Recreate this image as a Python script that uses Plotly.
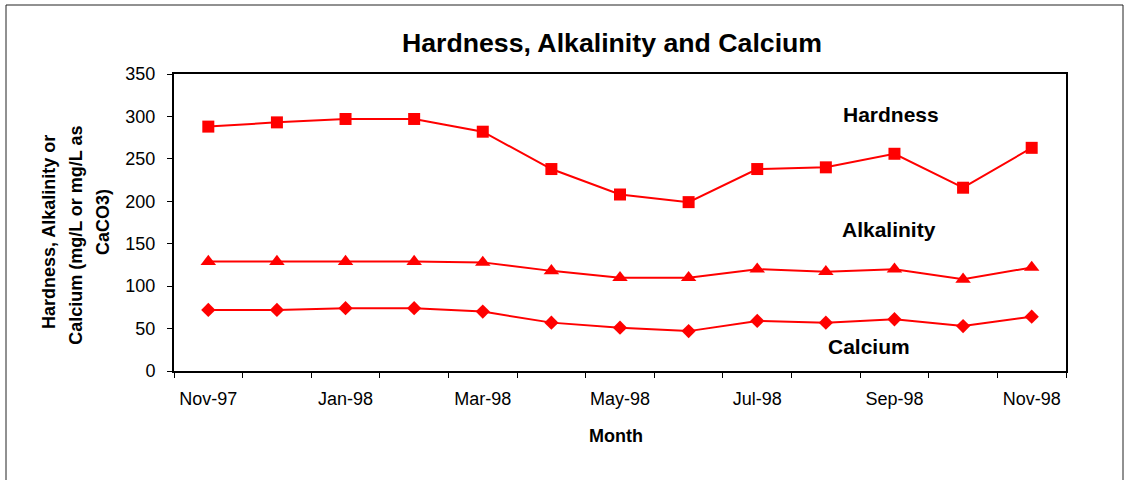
import plotly.graph_objects as go

months = ["Nov-97", "Dec-97", "Jan-98", "Feb-98", "Mar-98", "Apr-98", "May-98",
          "Jun-98", "Jul-98", "Aug-98", "Sep-98", "Oct-98", "Nov-98"]
hardness = [288, 293, 297, 297, 282, 238, 208, 199, 238, 240, 256, 216, 263]
alkalinity = [129, 129, 129, 129, 128, 118, 110, 110, 120, 117, 120, 108, 122]
calcium = [72, 72, 74, 74, 70, 57, 51, 47, 59, 57, 61, 53, 64]

tick_text = [m if i % 2 == 0 else "" for i, m in enumerate(months)]

RED = "#FF0000"
FONT = "Liberation Sans, Arial, sans-serif"

fig = go.Figure()
series = [("Hardness", hardness, "square", 12),
          ("Alkalinity", alkalinity, "triangle-up", 13.5),
          ("Calcium", calcium, "diamond", 11)]
for name, vals, sym, sz in series:
    fig.add_trace(go.Scatter(
        x=months, y=vals, name=name, mode="lines+markers",
        line=dict(color=RED, width=2),
        marker=dict(symbol=sym, size=sz, color=RED),
        showlegend=False,
    ))

fig.update_layout(
    width=1126, height=480,
    margin=dict(l=174, r=60, t=74, b=109, autoexpand=False),
    paper_bgcolor="white", plot_bgcolor="white",
    font=dict(family=FONT, color="black", size=18),
    title=dict(text="<b>Hardness, Alkalinity and Calcium</b>",
               font=dict(size=26.7, family=FONT, color="black"),
               x=612 / 1126, xanchor="center", xref="container",
               y=1 - 43 / 480, yanchor="middle", yref="container",
               automargin=False),
)

fig.update_xaxes(
    type="category", categoryorder="array", categoryarray=months,
    range=[-0.5, len(months) - 0.5],
    tickmode="array", tickvals=months, ticktext=tick_text,
    tickson="boundaries", ticks="outside", ticklen=5, tickwidth=1,
    tickcolor="black", showline=True, linecolor="black", linewidth=2,
    mirror=True, showgrid=False, zeroline=False, tickangle=0,
    automargin=False,
    tickfont=dict(size=18, family=FONT, color="black"),
    ticklabelstandoff=10,
)
fig.update_yaxes(
    range=[0, 350], dtick=50, tick0=0, ticks="outside", ticklen=5,
    tickwidth=1, tickcolor="black", showline=True, linecolor="black",
    linewidth=2, mirror=True, showgrid=False, zeroline=False,
    automargin=False,
    tickfont=dict(size=18, family=FONT, color="black"),
    ticklabelstandoff=8,
)

anns = [
    ("<b>Hardness</b>", 0.804, 0.862, 21, 0),
    ("<b>Alkalinity</b>", 0.802, 0.475, 21, 0),
    ("<b>Calcium</b>", 0.779, 0.084, 21, 0),
    ("<b>Month</b>", 0.4955, -0.220, 18, 0),
    ("<b>Hardness, Alkalinity or</b>", -0.140, 0.468, 18, -90),
    ("<b>Calcium (mg/L or mg/L as</b>", -0.110, 0.458, 18, -90),
    ("<b>CaCO3)</b>", -0.0796, 0.502, 18, -90),
]
for text, x, y, size, ang in anns:
    fig.add_annotation(text=text, x=x, y=y, xref="paper", yref="paper",
                       xanchor="center", yanchor="middle", showarrow=False,
                       textangle=ang,
                       font=dict(size=size, family=FONT, color="black"))

# outer chart border
fig.add_shape(type="rect", xref="paper", yref="paper",
              x0=(6 - 174) / 892, x1=(1123 - 174) / 892,
              y0=(371 - 490) / 297, y1=(371 - 5) / 297,
              line=dict(color="#222222", width=1), fillcolor="rgba(0,0,0,0)",
              layer="below")

fig.write_html(
    "out.html",
    config={"displayModeBar": False},
    post_script="document.body.style.margin='0';document.body.style.overflow='hidden';",
)
